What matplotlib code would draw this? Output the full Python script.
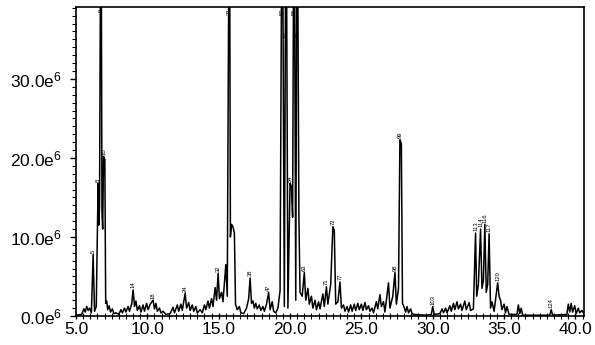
import numpy as np
import matplotlib
matplotlib.use("Agg")
import matplotlib.pyplot as plt
from matplotlib.ticker import MultipleLocator, FixedLocator

plt.rcParams['font.family'] = ['Liberation Sans', 'DejaVu Sans']
plt.rcParams['mathtext.fontset'] = 'custom'
plt.rcParams['mathtext.rm'] = 'Liberation Sans'
plt.rcParams['mathtext.it'] = 'Liberation Sans'

# retention time (min) and abundance (x1e6)
rt = [5.00, 5.40, 5.55, 5.65, 5.75, 5.85, 5.95, 6.08, 6.20, 6.30, 6.42, 6.55, 6.60, 6.65, 6.75, 6.82,
      6.87, 6.93, 7.02, 7.08, 7.15, 7.22, 7.32, 7.42, 7.55, 7.65, 7.80, 8.00, 8.15, 8.25, 8.40, 8.50,
      8.65, 8.75, 8.90, 9.00, 9.10, 9.20, 9.30, 9.45, 9.55, 9.70, 9.80, 9.95, 10.05, 10.20, 10.40,
      10.50, 10.60, 10.70, 10.85, 10.95, 11.10, 11.30, 11.60, 11.80, 11.90, 12.10, 12.20, 12.35,
      12.45, 12.65, 12.75, 12.90, 13.00, 13.15, 13.25, 13.40, 13.50, 13.70, 13.85, 14.00, 14.10,
      14.25, 14.35, 14.50, 14.60, 14.75, 14.85, 14.96, 15.05, 15.20, 15.30, 15.50, 15.60, 15.75,
      15.82, 15.90, 16.00, 16.10, 16.18, 16.30, 16.45, 16.55, 16.75, 16.95, 17.10, 17.20, 17.30,
      17.40, 17.50, 17.60, 17.70, 17.85, 17.95, 18.10, 18.20, 18.35, 18.50, 18.60, 18.75, 18.85,
      19.00, 19.15, 19.30, 19.45, 19.60, 19.72, 19.85, 20.00, 20.10, 20.18, 20.28, 20.40, 20.50,
      20.62, 20.70, 20.85, 21.00, 21.10, 21.25, 21.35, 21.50, 21.60, 21.75, 21.85, 22.00, 22.10,
      22.30, 22.40, 22.55, 22.65, 22.85, 23.00, 23.10, 23.20, 23.35, 23.50, 23.60, 23.75, 23.85,
      24.00, 24.10, 24.25, 24.35, 24.50, 24.60, 24.75, 24.85, 25.00, 25.10, 25.25, 25.35, 25.50,
      25.60, 25.75, 25.85, 26.05, 26.15, 26.30, 26.40, 26.55, 26.65, 26.90, 27.00, 27.20, 27.35,
      27.45, 27.60, 27.70, 27.80, 27.88, 28.00, 28.10, 28.20, 28.30, 28.45, 28.55, 28.70, 29.50,
      29.90, 30.00, 30.10, 30.50, 30.65, 30.75, 30.90, 31.00, 31.20, 31.30, 31.45, 31.55, 31.70,
      31.80, 31.95, 32.05, 32.25, 32.35, 32.55, 32.65, 32.85, 33.00, 33.08, 33.20, 33.35, 33.45,
      33.55, 33.65, 33.75, 33.85, 33.95, 34.05, 34.15, 34.30, 34.55, 34.65, 34.75, 34.85, 35.00,
      35.10, 35.20, 35.35, 35.90, 36.00, 36.10, 36.20, 36.30, 38.20, 38.30, 38.40, 39.40, 39.50,
      39.60, 39.70, 39.80, 39.95, 40.05, 40.20, 40.30, 40.45, 40.60]
abund = [0.10, 0.20, 0.90, 0.50, 1.20, 0.70, 1.00, 0.40, 7.80, 0.60, 1.20, 16.80, 11.50, 14.00, 60.0, 13.00,
         11.00, 20.20, 19.80, 1.60, 1.90, 0.80, 1.30, 0.50, 0.90, 0.30, 0.40, 0.20, 0.80, 0.40, 1.00, 0.50,
         1.20, 0.60, 1.50, 3.30, 1.20, 1.90, 0.70, 1.30, 0.50, 1.40, 0.60, 1.60, 0.80, 1.50, 2.00,
         0.90, 1.60, 0.60, 1.00, 0.40, 0.60, 0.20, 0.30, 1.10, 0.40, 1.40, 0.60, 1.50,
         0.70, 2.90, 1.00, 1.70, 0.70, 1.40, 0.60, 1.20, 0.40, 0.80, 0.40, 1.40, 0.80,
         1.90, 1.00, 2.20, 1.20, 3.60, 2.00, 5.40, 2.20, 3.00, 1.80, 6.50, 2.50, 60.0,
         10.00, 11.60, 11.30, 10.50, 1.50, 0.80, 1.20, 0.40, 0.30, 1.00, 2.20, 4.80, 1.60,
         1.90, 1.00, 1.60, 0.90, 1.40, 0.70, 1.20, 0.60, 1.50, 3.00, 0.80, 1.80, 0.60,
         0.40, 1.00, 3.20, 60.0, 1.20, 60.0, 1.00, 16.80, 16.40, 12.50, 60.0, 2.00, 60.0,
         12.50, 3.00, 2.50, 5.50, 2.00, 3.50, 1.50, 2.50, 1.00, 2.00, 0.80, 1.80, 0.90,
         2.80, 1.20, 3.70, 1.50, 4.00, 11.30, 10.80, 1.50, 1.80, 4.30, 1.00, 1.40, 0.60,
         1.20, 0.50, 1.40, 0.60, 1.50, 0.70, 1.60, 0.80, 1.50, 0.70, 1.70, 0.80, 1.30,
         0.60, 1.00, 0.40, 1.80, 0.90, 2.70, 1.20, 1.80, 0.50, 4.20, 1.00, 2.50, 5.50,
         1.50, 3.50, 22.30, 21.80, 1.60, 1.10, 0.50, 1.20, 0.40, 0.90, 0.30, 0.20, 0.10,
         0.20, 1.20, 0.20, 0.30, 0.90, 0.40, 1.00, 0.40, 1.30, 0.60, 1.60, 0.80, 1.80,
         0.90, 1.50, 0.70, 1.90, 0.80, 1.70, 0.70, 0.90, 10.50, 2.50, 4.00, 11.00, 3.50,
         4.50, 11.60, 3.00, 4.00, 10.40, 1.00, 1.80, 0.60, 4.20, 2.50, 2.00, 0.80, 1.50,
         0.40, 1.20, 0.20, 0.20, 1.40, 0.30, 1.00, 0.10, 0.10, 0.80, 0.10, 0.20, 1.50,
         0.50, 1.60, 0.50, 1.30, 0.30, 1.00, 0.40, 0.70, 0.30]

# peak numbers printed at the apex
peak_ids = ['5', '8', '9', '10', '14', '18', '24', '32', '33', '38', '47', '50', '51', '54', '55',
            '56', '63', '71', '72', '77', '98', '99', '103', '113', '114', '116', '117', '120', '124']
peak_rt = [6.20, 6.55, 6.75, 6.97, 9.00, 10.40, 12.65, 14.96, 15.75, 17.20, 18.50, 19.45, 19.72, 20.05,
           20.28, 20.50, 21.00, 22.55, 23.00, 23.50, 27.35, 27.70, 30.00, 33.00, 33.35, 33.65, 33.95,
           34.55, 38.30]
peak_h = [7.8, 16.8, 60, 20.2, 3.3, 2.0, 2.9, 5.4, 60, 4.8, 3.0, 60, 60, 16.8, 60, 60, 5.5, 3.7,
          11.3, 4.3, 5.5, 22.3, 1.2, 10.5, 11.0, 11.6, 10.4, 4.2, 0.8]

y_ticks = [0, 10, 20, 30]
y_labels = ['0.0e$^6$', '10.0e$^6$', '20.0e$^6$', '30.0e$^6$']
x_ticks = [5, 10, 15, 20, 25, 30, 35, 40]

fig = plt.figure(figsize=(5.95, 3.45), dpi=100)
ax = fig.add_axes([76 / 595, 1 - 316 / 345, 508 / 595, 309 / 345])

ax.plot(rt, abund, color='black', lw=1.1)

ymax = 39.1
last_top = -10.0
drop = 0.0
for lab, t, h in zip(peak_ids, peak_rt, peak_h):
    if h > ymax:
        # stagger labels of clipped peaks that sit close together
        drop = drop + 2.8 if t - last_top < 0.35 else 0.0
        last_top = t
        ax.text(t, ymax - 0.2 - drop, lab, rotation=90, fontsize=4.2, ha='center', va='top')
    else:
        ax.text(t, h + 0.2, lab, rotation=90, fontsize=4.2, ha='center', va='bottom')

ax.set_xlim(5.0, 40.6)
ax.set_ylim(0, ymax)
ax.xaxis.set_major_locator(FixedLocator(x_ticks))
ax.xaxis.set_minor_locator(MultipleLocator(0.5))
ax.set_xticklabels(['%.1f' % v for v in x_ticks])
ax.yaxis.set_major_locator(FixedLocator(y_ticks))
ax.yaxis.set_minor_locator(MultipleLocator(1))
ax.set_yticklabels(y_labels)

ax.tick_params(axis='x', which='major', direction='inout', length=5, width=1, labelsize=12.5, pad=2)
ax.tick_params(axis='x', which='minor', direction='inout', length=4, width=0.8)
ax.tick_params(axis='y', which='major', direction='out', length=4, width=1, labelsize=12.5, pad=6)
ax.tick_params(axis='y', which='minor', direction='out', length=3, width=0.8)
for s in ax.spines.values():
    s.set_linewidth(1.2)

fig.savefig('out.png', dpi=100)
